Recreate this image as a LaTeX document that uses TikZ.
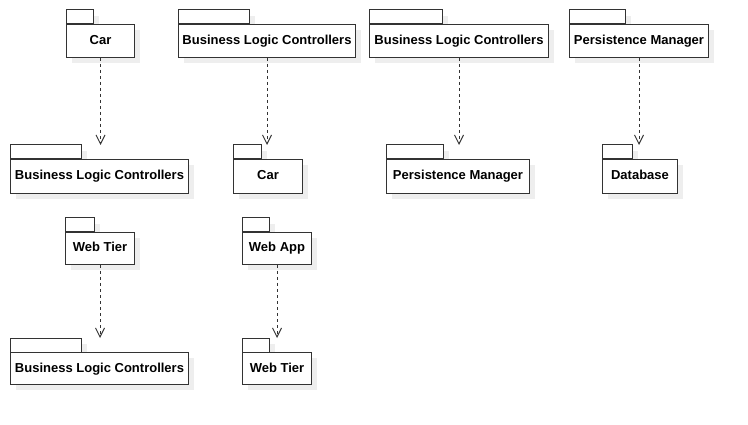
\documentclass[tikz,border=0pt]{standalone}
\usepackage{fontspec}
\setmainfont{Liberation Sans}
\usetikzlibrary{arrows.meta}
\definecolor{shadowc}{HTML}{EEEEEE}
\definecolor{linec}{HTML}{333333}
\tikzset{
  pkgline/.style={draw=linec, line width=1pt},
  pkglabel/.style={pkgline, fill=white, inner sep=0pt, anchor=north west,
    text height=9.5pt, text depth=2.5pt,
    font=\fontsize{13}{15}\selectfont\bfseries},
  dep/.style={draw=linec, line width=1pt, dash pattern=on 3pt off 3pt,
    -{Straight Barb[length=9pt,width=9pt,line width=1pt]}},
}
% name, xl, yt, xr, yb, tabright, label
\newcommand{\pkgbox}[7]{%
  \fill[shadowc] (#2+6,#3-14+6) rectangle (#6+6,#3+6);
  \fill[shadowc] (#2+6,#3+6) rectangle (#4+6,#5+6);
  \draw[pkgline, fill=white] (#2,#3-14) rectangle (#6,#3);
  \node[pkglabel, minimum width=#4-#2, minimum height=#5-#3] (#1) at (#2,#3) {#7};
  \coordinate (#1-top) at ({(#2+#4)/2},#3-14);
}
\begin{document}
\begin{tikzpicture}[x=1pt,y=-1pt]
\useasboundingbox[fill=white] (0,0) rectangle (748,425);
% row 1
\pkgbox{car1}{66}{24}{134}{57}{93}{Car}
\pkgbox{blcA}{178}{24}{355}{57}{249}{Business Logic Controllers}
\pkgbox{blcB}{369}{24}{548}{57}{442}{Business Logic Controllers}
\pkgbox{pmA}{569}{24}{708}{57}{625}{Persistence Manager}
% row 2
\pkgbox{blcC}{10}{159}{188}{193}{81}{Business Logic Controllers}
\pkgbox{car2}{233}{159}{302}{193}{261}{Car}
\pkgbox{pmB}{386}{159}{529}{193}{443}{Persistence Manager}
\pkgbox{db}{602}{159}{677}{193}{632}{Database}
% row 3
\pkgbox{wt1}{65}{232}{134}{264}{94}{Web Tier}
\pkgbox{wa}{242}{232}{311}{264}{269}{Web App}
\pkgbox{blcD}{10}{352}{188}{384}{81}{Business Logic Controllers}
\pkgbox{wt2}{242}{352}{311}{384}{269}{Web Tier}
% dependencies
\draw[dep] (car1.south) -- (car1.south |- blcC-top);
\draw[dep] (blcA.south) -- (blcA.south |- car2-top);
\draw[dep] (blcB.south) -- (blcB.south |- pmB-top);
\draw[dep] (pmA.south) -- (pmA.south |- db-top);
\draw[dep] (wt1.south) -- (wt1.south |- blcD-top);
\draw[dep] (wa.south) -- (wa.south |- wt2-top);
\end{tikzpicture}
\end{document}
